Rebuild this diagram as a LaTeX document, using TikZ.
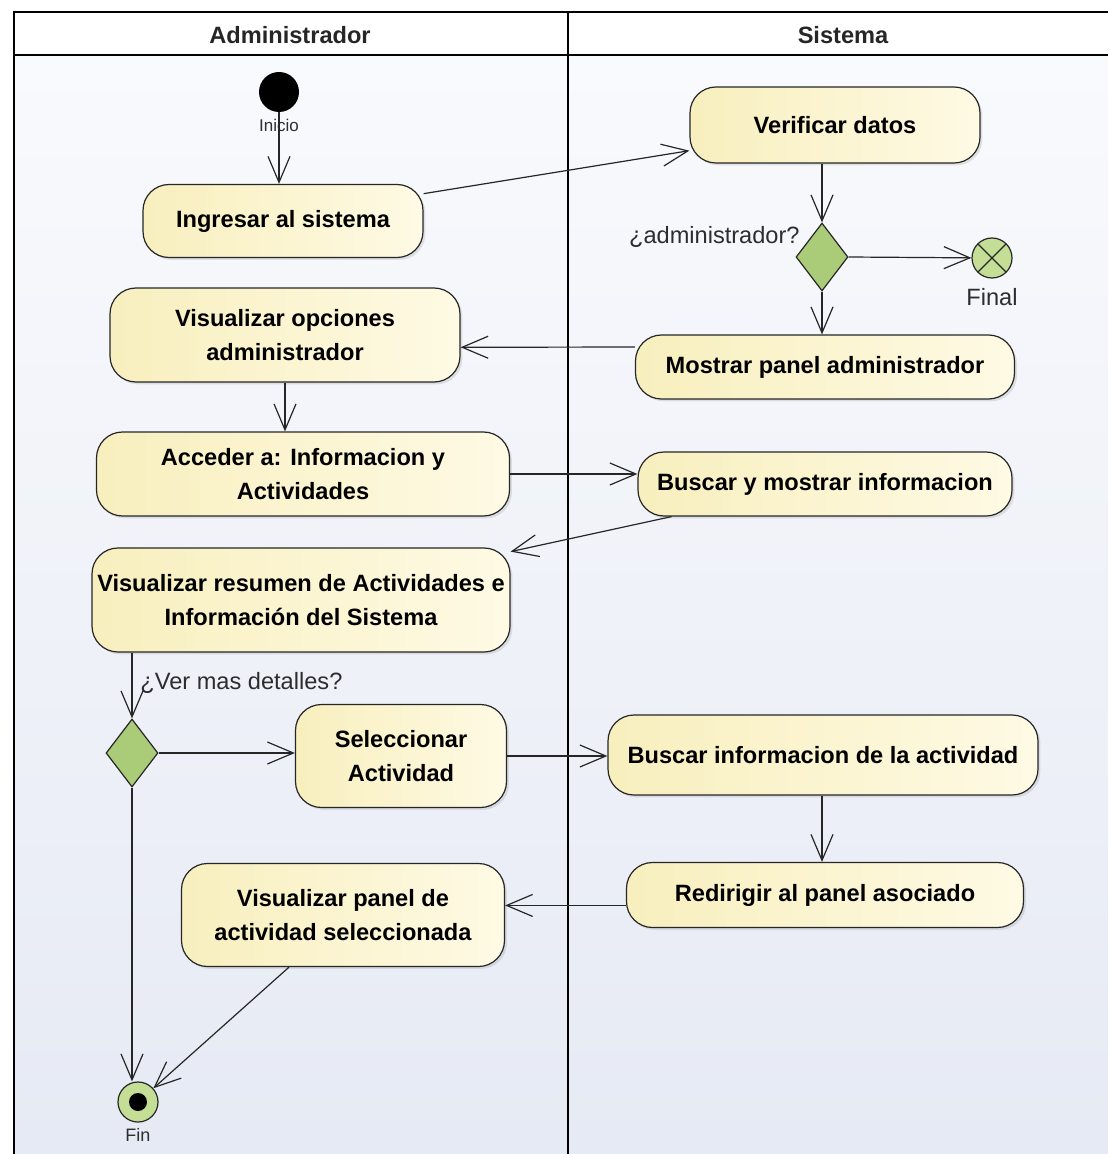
\documentclass[tikz,border=0pt]{standalone}
\usepackage{fontspec}
\setmainfont{Liberation Sans}
\usetikzlibrary{arrows.meta,shapes.geometric,shadows}

\definecolor{actfill}{RGB}{248,239,190}
\definecolor{actfillb}{RGB}{254,250,228}
\definecolor{decfill}{RGB}{170,203,120}
\definecolor{endfill}{RGB}{196,222,150}
\definecolor{lanetop}{RGB}{249,250,253}
\definecolor{lanebot}{RGB}{230,234,244}
\definecolor{labgray}{RGB}{45,45,45}

\begin{document}
\begin{tikzpicture}[x=0.5pt,y=-0.5pt]
\tikzstyle{every node}=[font=\fontsize{11.8}{16.5}\selectfont]
\tikzstyle{act}=[draw=black!85, line width=0.6pt, rounded corners=13pt, left color=actfill, right color=actfillb, align=center, inner sep=1pt, font=\fontsize{11.8}{16.8}\selectfont\bfseries, drop shadow={shadow xshift=1.2pt, shadow yshift=-1.2pt, opacity=0.2}]
\tikzstyle{dec}=[diamond, draw=black!85, line width=0.6pt, fill=decfill, minimum width=26pt, minimum height=34pt, inner sep=0pt]
\tikzstyle{lab}=[text=labgray, inner sep=1pt]
\tikzstyle{flow}=[draw=black!85, line width=0.6pt, -{Straight Barb[length=13pt,width=11pt]}]

\useasboundingbox (0,0) rectangle (1108,1154);

% lanes
\shade[top color=lanetop, bottom color=lanebot] (14,55) rectangle (1108,1154);
\fill[white] (14,12) rectangle (1108,55);
\draw[line width=1pt] (1108,12) -- (14,12) -- (14,1154);
\draw[line width=1pt] (14,55) -- (1108,55);
\draw[line width=1pt] (568,12) -- (568,1154);
    \node[font=\fontsize{11.8}{15}\selectfont\bfseries, text=black!85] (admin) at (290,35) {Administrador};
    \node[font=\fontsize{11.8}{15}\selectfont\bfseries, text=black!85] (sistema) at (843,35) {Sistema};

\node[circle, fill=black, minimum size=20pt, inner sep=0pt] (inicio) at (279,92) {}; % Inicio
    \node[lab, font=\fontsize{8.5}{10}\selectfont] (inicioL) at (279,125) {Inicio};
\node[act, minimum width=140pt, minimum height=36.5pt] (ingresar) at (283,221) {Ingresar al sistema};
\node[act, minimum width=145pt, minimum height=38pt] (verificar) at (835,125) {Verificar datos};

\node[dec] (dec1) at (822,257) {}; % administrador?
    \node[lab, anchor=east] (dec1L) at (802,237) {¿administrador?};
\node[circle, draw=black!85, line width=0.6pt, fill=endfill, minimum size=20pt, inner sep=0pt,
    path picture={\draw[line width=0.6pt] (path picture bounding box.north west) -- (path picture bounding box.south east)
    (path picture bounding box.north east) -- (path picture bounding box.south west);}] (final) at (992,258) {};
    \node[lab] (finalL) at (992,297) {Final};

\node[act, minimum width=189.5pt, minimum height=32pt] (mostrar) at (825,367) {Mostrar panel administrador};
\node[act, minimum width=175pt, minimum height=47pt] (opciones) at (285,335) {Visualizar opciones\\administrador};
\node[act, minimum width=206.5pt, minimum height=42pt] (acceder) at (303,474) {Acceder a: Informacion y\\Actividades};
\node[act, minimum width=187pt, minimum height=32pt] (buscar) at (825,484) {Buscar y mostrar informacion};
\node[act, minimum width=209pt, minimum height=52pt] (resumen) at (301,600) {Visualizar resumen de Actividades e\\Información del Sistema};

\node[dec] (dec2) at (132,753) {}; % ver mas
    \node[lab, anchor=west] (dec2L) at (138,683) {¿Ver mas detalles?};
\node[act, minimum width=105.5pt, minimum height=51.5pt] (selec) at (401,756) {Seleccionar\\Actividad};
\node[act, minimum width=215pt, minimum height=40pt] (binfo) at (823,755) {Buscar informacion de la actividad};
\node[act, minimum width=198.5pt, minimum height=32.5pt] (redir) at (825,895) {Redirigir al panel asociado};
\node[act, minimum width=161.5pt, minimum height=51.5pt] (vpanel) at (343,915) {Visualizar panel de\\actividad seleccionada};

\node[circle, draw=black!85, line width=0.6pt, fill=endfill, minimum size=20pt, inner sep=0pt,
    path picture={\fill[black] (path picture bounding box.center) circle (4.5pt);}] (fin) at (138,1102) {}; % Fin
    \node[lab, font=\fontsize{9}{10}\selectfont] (finL) at (138,1135) {Fin};

% flujo
\draw[flow] (inicio.south) -- (inicio.south |- ingresar.north);
\draw[flow] (ingresar.11) -- (verificar.190);
\draw[flow] (dec1 |- verificar.south) -- (dec1.north);
\draw[flow] (dec1.east) -- (final);
\draw[flow] (dec1.south) -- (dec1.south |- mostrar.north);
\draw[flow] (mostrar.174) -- (opciones.-4);
\draw[flow] (opciones.south) -- (opciones.south |- acceder.north);
\draw[flow] (acceder.east) -- (acceder.east -| buscar.west);
\draw[flow] (buscar.192) -- (resumen.13);
\draw[flow] (dec2 |- resumen.south) -- (dec2.north);
\draw[flow] (dec2.east) -- (dec2.east -| selec.west);
\draw[flow] (selec.east) -- (selec.east -| binfo.west);
\draw[flow] (binfo.south -| dec1) -- (dec1 |- redir.north);
\draw[flow] (redir.183) -- (vpanel.east |- redir.183);
\draw[flow] (dec2.south) -- (dec2.south |- fin.north);
\draw[flow] (vpanel.224) -- (fin);

\end{tikzpicture}
\end{document}
